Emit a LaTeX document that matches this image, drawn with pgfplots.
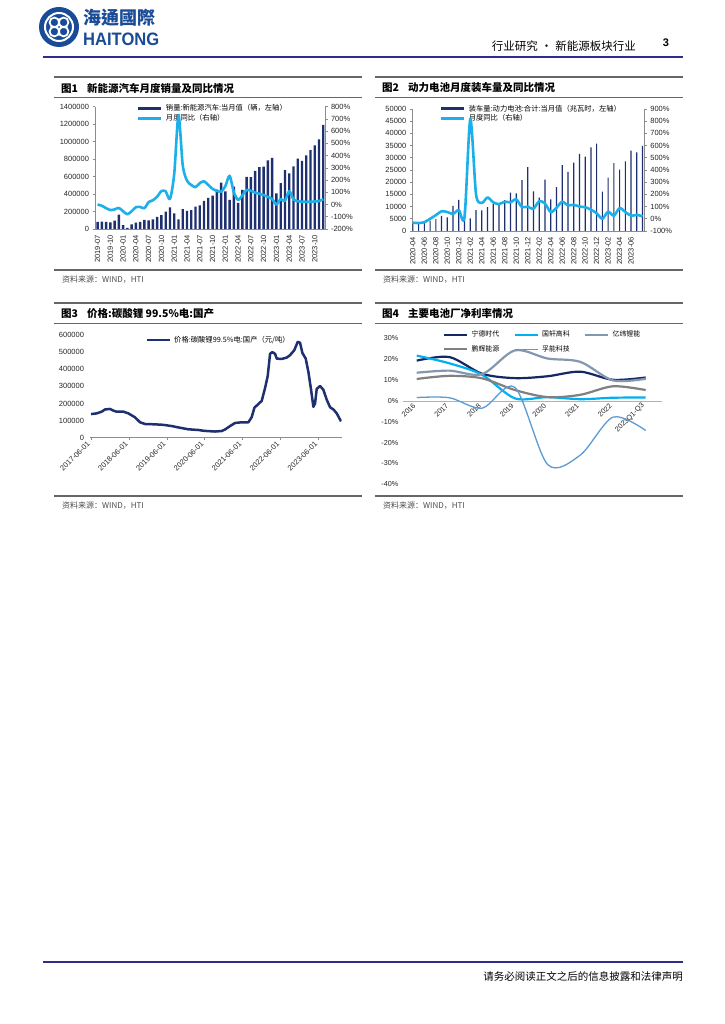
\documentclass[border=0pt]{standalone}
\usepackage{fontspec}
\setmainfont{Liberation Sans}
\newfontfamily\cjk{Noto Sans CJK SC}
\newfontfamily\cjktc{Noto Sans CJK TC}
\usepackage{graphicx}
\usepackage{pgfplots}
\usepackage{pgfplotstable}
\pgfplotsset{compat=1.18}

\definecolor{navy}{RGB}{30,48,112}
\definecolor{skyb}{RGB}{28,176,235}
\definecolor{logob}{RGB}{25,75,150}
\definecolor{rulec}{RGB}{44,46,140}
\definecolor{cA}{RGB}{22,40,100}
\definecolor{cB}{RGB}{0,176,240}
\definecolor{cC}{RGB}{132,151,176}
\definecolor{cD}{RGB}{128,128,128}
\definecolor{cE}{RGB}{91,155,213}

\pgfplotstableread{
idx sales yoy
0 80000 0
1 85000 -10
2 80000 -30
3 75000 -45
4 95000 -40
5 163000 -28
6 44000 -55
7 13000 -80
8 53000 -55
9 72000 -22
10 82000 -20
11 104000 -30
12 98000 20
13 109000 35
14 138000 65
15 160000 110
16 200000 108
17 248000 45
18 179000 250
19 110000 730
20 226000 320
21 206000 195
22 217000 160
23 256000 142
24 271000 175
25 321000 190
26 357000 160
27 383000 128
28 450000 112
29 531000 105
30 431000 150
31 334000 235
32 484000 100
33 299000 38
34 447000 75
35 596000 120
36 593000 112
37 666000 97
38 708000 88
39 714000 78
40 786000 62
41 814000 45
42 408000 0
43 525000 45
44 674000 30
45 636000 110
46 717000 42
47 806000 27
48 780000 24
49 843000 22
50 904000 23
51 956000 25
52 1026000 28
53 1191000 44
}\nevdata

\pgfplotstableread{
idx batt yoy
0 3000 -32
1 2800 -35
2 3400 -28
3 4200 0
4 4900 30
5 6150 62
6 5600 55
7 10250 40
8 12700 72
9 8600 15
10 5200 820
11 8600 200
12 8400 130
13 9800 175
14 11100 135
15 11300 120
16 12600 140
17 15700 135
18 15400 160
19 20800 95
20 26200 100
21 16200 82
22 13700 145
23 21000 125
24 13000 55
25 18000 90
26 27000 140
27 24200 110
28 28000 115
29 31600 100
30 30500 95
31 34300 75
32 35800 45
33 16100 0
34 21900 58
35 27800 25
36 25100 88
37 28500 55
38 32900 25
39 32200 32
40 34900 20
}\battdata

\pgfplotstableread{
yr price
2017.417 138000
2017.566 142000
2017.698 152000
2017.786 165000
2017.918 168000
2018.006 158000
2018.094 152000
2018.270 152000
2018.402 142000
2018.578 119000
2018.710 90000
2018.842 80000
2019.106 78000
2019.326 75000
2019.545 68000
2019.721 60000
2019.985 49000
2020.249 45000
2020.399 40000
2020.689 36000
2020.865 39000
2020.953 48000
2021.085 68000
2021.217 86000
2021.393 90000
2021.568 90000
2021.656 120000
2021.727 175000
2021.832 197000
2021.920 215000
2022.008 290000
2022.078 360000
2022.140 490000
2022.201 500000
2022.272 490000
2022.316 462000
2022.448 460000
2022.579 468000
2022.667 482000
2022.781 512000
2022.869 560000
2022.931 555000
2022.993 495000
2023.081 462000
2023.151 385000
2023.222 280000
2023.283 180000
2023.327 200000
2023.371 285000
2023.459 302000
2023.547 280000
2023.635 222000
2023.723 178000
2023.811 165000
2023.899 142000
2024.013 95000
}\lidata

\pgfplotsset{
  base/.style={
    scale only axis, anchor=south west,
    /pgf/number format/assume math mode=true,
    tick label style={font=\fontsize{7.5}{8}\selectfont, text=black!85},
    axis line style={black!45, line width=0.6pt},
    tick style={black!45, line width=0.6pt},
    major tick length=2.5pt, tick align=outside,
    legend cell align=left,
    legend image code/.code={\draw[##1] (0pt,0pt) -- (23pt,0pt);},
  },
  lg/.style={legend style={draw=none, fill=none, inner sep=0pt, outer sep=0pt,
    anchor=north west, font=\cjk\fontsize{7.3}{7.8}\selectfont,
    nodes={inner sep=0.6pt},
    /tikz/every odd column/.append style={column sep=2.5pt}}},
}

\begin{document}
\begin{tikzpicture}[x=1pt,y=1pt]
\fill[white] (0,0) rectangle (724,1024);

% ---------- header ----------
\fill[logob] (59,997) circle (20);
\draw[white, line width=2] (59,997) circle (14);
\foreach \a in {45,135,225,315} \draw[white, line width=1.8] (59,997) ++(\a:6.5) circle (4.8);
\node[anchor=west, inner sep=0, text=logob, font=\cjktc\bfseries\fontsize{18}{18}\selectfont] at (83,1006) {海通國際};
\node[anchor=west, inner sep=0, text=logob, font=\bfseries\fontsize{18}{18}\selectfont] at (83,985) {\scalebox{0.92}[1]{HAITONG}};
\node[anchor=east, inner sep=0, font=\cjk\fontsize{11.5}{12}\selectfont] at (636,978) {行业研究\hspace{3pt}•\hspace{3pt}新能源板块行业};
\node[anchor=center, inner sep=0, font=\bfseries\fontsize{11}{11}\selectfont] at (666,981) {3};
\draw[rulec, line width=2] (43,967) -- (683,967);

% ---------- footer ----------
\draw[rulec, line width=2] (43,62) -- (683,62);
\node[anchor=east, inner sep=0, font=\cjk\fontsize{10.5}{11}\selectfont] at (683,48) {请务必阅读正文之后的信息披露和法律声明};

% ---------- panel frames ----------
\foreach \xa/\xb in {54/362, 375/683} {
  \draw[black!60, line width=1.2] (\xa,947) -- (\xb,947);
  \draw[black!60, line width=1] (\xa,926) -- (\xb,926);
  \draw[black!60, line width=1.2] (\xa,754) -- (\xb,754);
  \draw[black!60, line width=1.2] (\xa,721) -- (\xb,721);
  \draw[black!60, line width=1] (\xa,700) -- (\xb,700);
  \draw[black!60, line width=1.2] (\xa,528) -- (\xb,528);
}
\node[anchor=west, inner sep=0, font=\cjk\bfseries\fontsize{10.5}{11}\selectfont] at (61,936) {图1\hspace{9pt}新能源汽车月度销量及同比情况};
\node[anchor=west, inner sep=0, font=\cjk\bfseries\fontsize{10.5}{11}\selectfont] at (382,936) {图2\hspace{9pt}动力电池月度装车量及同比情况};
\node[anchor=west, inner sep=0, font=\cjk\bfseries\fontsize{10.5}{11}\selectfont] at (61,710) {图3\hspace{9pt}价格:碳酸锂 99.5\%电:国产};
\node[anchor=west, inner sep=0, font=\cjk\bfseries\fontsize{10.5}{11}\selectfont] at (382,710) {图4\hspace{9pt}主要电池厂净利率情况};
\foreach \xx/\yy in {62/744, 383/744, 62/518, 383/518}
  \node[anchor=west, inner sep=0, text=black!70, font=\cjk\fontsize{8}{8.5}\selectfont] at (\xx,\yy) {资料来源：WIND，HTI};

% ---------- Chart 1 ----------
\begin{axis}[base, at={(95pt,795pt)}, width=230pt, height=122.3pt,
  xmin=-0.6, xmax=53.4, ymin=0, ymax=1400000,
  axis x line*=bottom, axis y line*=left,
  xtick={0,3,...,51},
  xticklabels={2019-07,2019-10,2020-01,2020-04,2020-07,2020-10,2021-01,2021-04,2021-07,2021-10,2022-01,2022-04,2022-07,2022-10,2023-01,2023-04,2023-07,2023-10},
  x tick label style={rotate=90, anchor=east},
  xtick style={draw=none},
  ytick={0,200000,...,1400000}, scaled y ticks=false,
  yticklabel style={/pgf/number format/fixed, /pgf/number format/1000 sep={}},
  lg, legend style={at={(0.183,1.022)}, row sep=0.8pt},
]
\addplot[ybar, bar width=2.4pt, fill=navy, draw=none, forget plot] table[x=idx,y=sales]{\nevdata};
\addlegendimage{navy, line width=2.8pt}
\addlegendentry{销量:新能源汽车:当月值（辆，左轴）}
\addlegendimage{skyb, line width=2.8pt}
\addlegendentry{月度同比（右轴）}
\end{axis}
\begin{axis}[base, at={(95pt,795pt)}, width=230pt, height=122.3pt,
  xmin=-0.6, xmax=53.4, ymin=-200, ymax=800,
  axis x line=none, axis y line*=right,
  ytick={-200,-100,...,800},
  yticklabel={\pgfmathprintnumber{\tick}\%},
]
\addplot[skyb, line width=2.6pt, smooth, tension=0.45, line join=round] table[x=idx,y=yoy]{\nevdata};
\end{axis}

% ---------- Chart 2 ----------
\begin{axis}[base, at={(412.3pt,793pt)}, width=232pt, height=122pt,
  xmin=-0.1, xmax=40.3, ymin=0, ymax=50000,
  axis x line*=bottom, axis y line*=left,
  xtick={0,2,...,38},
  xticklabels={2020-04,2020-06,2020-08,2020-10,2020-12,2021-02,2021-04,2021-06,2021-08,2021-10,2021-12,2022-02,2022-04,2022-06,2022-08,2022-10,2022-12,2023-02,2023-04,2023-06},
  x tick label style={rotate=90, anchor=east},
  xtick style={draw=none},
  ytick={0,5000,...,50000}, scaled y ticks=false,
  yticklabel style={/pgf/number format/fixed, /pgf/number format/1000 sep={}},
  lg, legend style={at={(0.119,1.038)}, row sep=0.8pt},
]
\addplot[ybar, bar width=1.2pt, fill=navy, draw=none, forget plot] table[x=idx,y=batt]{\battdata};
\addlegendimage{navy, line width=2.8pt}
\addlegendentry{装车量:动力电池:合计:当月值（兆瓦时，左轴）}
\addlegendimage{skyb, line width=2.8pt}
\addlegendentry{月度同比（右轴）}
\end{axis}
\begin{axis}[base, at={(412.3pt,793pt)}, width=232pt, height=122pt,
  xmin=-0.1, xmax=40.3, ymin=-100, ymax=900,
  axis x line=none, axis y line*=right,
  ytick={-100,0,...,900},
  yticklabel={\pgfmathprintnumber{\tick}\%},
]
\addplot[skyb, line width=2.6pt, smooth, tension=0.45, line join=round] table[x=idx,y=yoy]{\battdata};
\end{axis}

% ---------- Chart 3 ----------
\begin{axis}[base, at={(90pt,586.3pt)}, width=251.7pt, height=102.7pt,
  xmin=2017.39, xmax=2024.03, ymin=0, ymax=600000,
  axis x line*=bottom, axis y line*=left,
  y axis line style={draw=none}, ytick style={draw=none},
  scaled x ticks=false,
  xtick={2017.417,2018.417,2019.417,2020.417,2021.417,2022.417,2023.417},
  xticklabels={2017-06-01,2018-06-01,2019-06-01,2020-06-01,2021-06-01,2022-06-01,2023-06-01},
  x tick label style={rotate=45, anchor=east},
  ytick={0,100000,...,600000}, scaled y ticks=false,
  yticklabel style={/pgf/number format/fixed, /pgf/number format/1000 sep={}},
  lg, legend style={at={(0.221,0.995)}},
]
\addplot[navy, line width=2.5pt, line join=round] table[x=yr,y=price]{\lidata};
\addlegendentry{价格:碳酸锂99.5\%电:国产（元/吨）}
\end{axis}

% ---------- Chart 4 ----------
\begin{axis}[base, at={(403pt,539.7pt)}, width=258.7pt, height=146pt,
  xmin=-0.42, xmax=7.49, ymin=-40, ymax=30,
  axis x line=middle, axis y line=left,
  hide obscured x ticks=false, hide obscured y ticks=false,
  x axis line style={-, black!30}, y axis line style={-, draw=none},
  xtick={0,...,7},
  xticklabels={2016,2017,2018,2019,2020,2021,2022,2023Q1-Q3},
  xtick style={draw=none}, ytick style={draw=none},
  x tick label style={rotate=45, anchor=east},
  ytick={-40,-30,...,30},
  yticklabel={\pgfmathprintnumber{\tick}\%},
  tick label style={font=\fontsize{7.2}{8}\selectfont},
  lg, legend columns=3,
  legend style={at={(0.156,1.053)}, font=\cjk\fontsize{6.9}{7.5}\selectfont, row sep=6pt, /tikz/every even column/.append style={column sep=14pt}},
]
\addplot[cA, line width=2.2pt, smooth, tension=0.5] coordinates {(0,19.3) (1,21.0) (2,13.0) (3,10.9) (4,11.8) (5,14.0) (6,10.1) (7,11.2)};
\addlegendentry{宁德时代}
\addplot[cB, line width=2.2pt, smooth, tension=0.5] coordinates {(0,21.7) (1,18.0) (2,12.5) (3,1.2) (4,1.8) (5,0.8) (6,1.5) (7,1.6)};
\addlegendentry{国轩高科}
\addplot[cC, line width=2.2pt, smooth, tension=0.5] coordinates {(0,13.5) (1,14.5) (2,12.8) (3,24.2) (4,20.3) (5,18.7) (6,9.8) (7,10.6)};
\addlegendentry{亿纬锂能}
\addplot[cD, line width=2.2pt, smooth, tension=0.5] coordinates {(0,10.5) (1,12.0) (2,10.8) (3,5.2) (4,1.8) (5,2.9) (6,7.0) (7,5.2)};
\addlegendentry{鹏辉能源}
\addplot[cE, line width=1.3pt, smooth, tension=0.5] coordinates {(0,1.6) (1,1.5) (2,-3.5) (3,6.5) (4,-30.5) (5,-26) (6,-7.8) (7,-14.2)};
\addlegendentry{孚能科技}
\end{axis}
\end{tikzpicture}
\end{document}
